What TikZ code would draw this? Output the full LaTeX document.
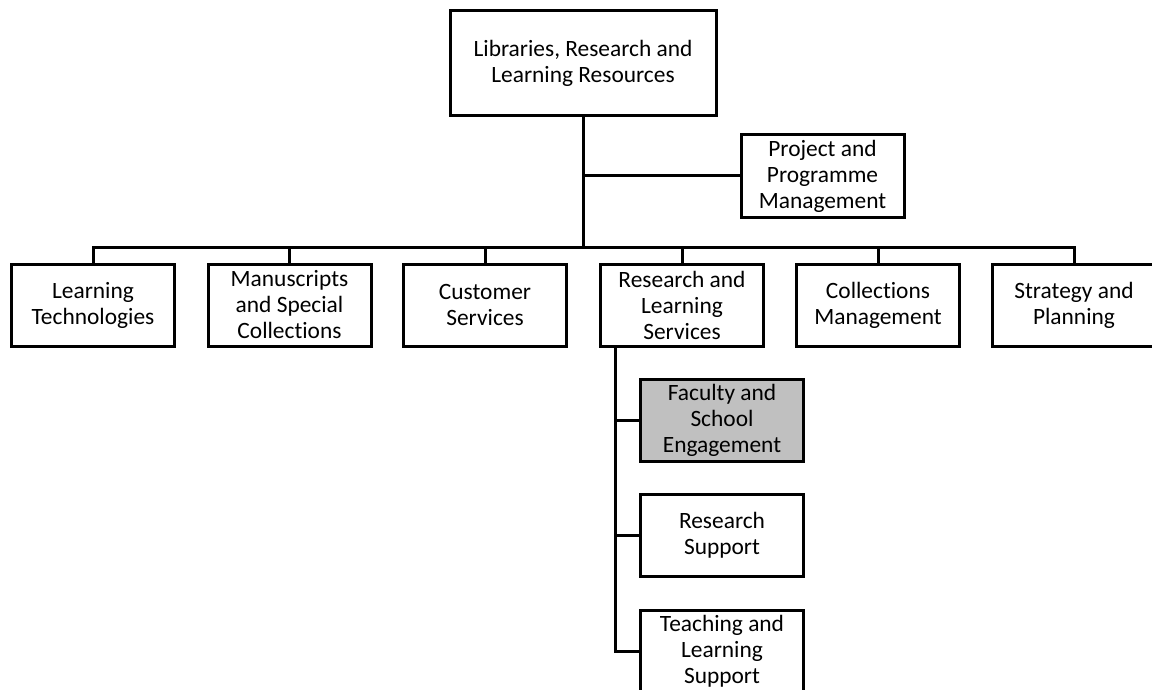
\documentclass[tikz,border=0pt]{standalone}
\usepackage{fontspec}
\setmainfont{Carlito}[Ligatures=NoCommon]
\usepackage{tikz}
\usetikzlibrary{positioning, calc}
\definecolor{fsegray}{RGB}{192,192,192}
\tikzset{
unit/.style={draw, line width=1.5pt, minimum width=81.5pt, minimum height=41pt, align=center, inner sep=0pt, font=\fontsize{11.7}{13}\selectfont},
link/.style={line width=1.5pt}
}

\begin{document}
\begin{tikzpicture}[x=0.5pt,y=-0.5pt]
\useasboundingbox (0,0) rectangle (1152,690);
\node [unit, minimum width=133pt, minimum height=52.5pt] (lrlr) at (583,63.5) {Libraries, Research and\\Learning Resources};
\node [unit] (ppm) at (822.5,176) {Project and\\Programme\\Management};
\node [unit] (lt) at (93,305) {Learning\\Technologies};
\node [unit] (msc) at (289.5,305) {Manuscripts\\and Special\\Collections};
\node [unit] (cs) at (485,305) {Customer\\Services};
\node [unit] (rls) at (682,305) {Research and\\Learning\\Services};
\node [unit] (cm) at (878,305) {Collections\\Management};
\node [unit] (sp) at (1074,305) {Strategy and\\Planning};
\node [unit, fill=fsegray] (fse) at (722,420) {Faculty and\\School\\Engagement};
\node [unit] (rsu) at (722,535.5) {Research\\Support};
\node [unit] (tls) at (722,651) {Teaching and\\Learning\\Support};
\coordinate (bus) at (583,247);
\coordinate (drop) at ([xshift=8pt]rls.south west);
\draw [link] (lrlr.south) -- (bus);
\draw [link] (ppm.west) -- (ppm.west -| bus);
\foreach \n in {lt,msc,cs,rls,cm,sp}
  \draw [link] (\n.north) |- (bus);
\draw [link] (drop) |- (tls.west);
\foreach \n in {fse,rsu}
  \draw [link] (drop) |- (\n.west);
\end{tikzpicture}
\end{document}
